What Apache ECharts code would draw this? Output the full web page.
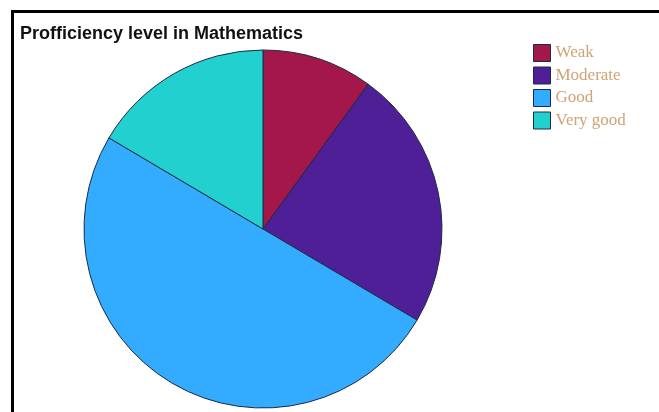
<!DOCTYPE html>
<html>
<head>
<meta charset="utf-8">
<script src="https://cdn.jsdelivr.net/npm/echarts@6/dist/echarts.min.js"></script>
<style>
html,body{margin:0;padding:0;background:#fff;}
#c{width:659px;height:412px;}
</style>
</head>
<body>
<div id="c"></div>
<script>
var categories = ["Weak", "Moderate", "Good", "Very good"];
var values = [10, 23.5, 50, 16.5];
var colors = ["#a3174b", "#4e1f96", "#33acff", "#22d0cf"];

var chart = echarts.init(document.getElementById('c'), null, {renderer: 'canvas'});
var data = categories.map(function (c, i) {
  return {name: c, value: values[i], itemStyle: {color: colors[i]}};
});
chart.setOption({
  animation: false,
  backgroundColor: '#ffffff',
  title: {
    text: 'Profficiency level in Mathematics',
    left: 15, top: 20,
    textStyle: {fontFamily: 'Liberation Sans, Arial, sans-serif', fontSize: 18, fontWeight: 'bold', color: '#111111'}
  },
  legend: {
    orient: 'vertical',
    left: 528, top: 39,
    itemWidth: 17, itemHeight: 17, itemGap: 4.5,
    icon: 'rect',
    itemStyle: {borderColor: '#1e2a44', borderWidth: 1},
    textStyle: {fontFamily: 'Liberation Serif, Times New Roman, serif', fontSize: 17, color: '#d0a274'},
    data: categories
  },
  graphic: [
    {type: 'rect', shape: {x: 11, y: 10, width: 648, height: 3}, style: {fill: '#000'}},
    {type: 'rect', shape: {x: 11, y: 10, width: 3, height: 402}, style: {fill: '#000'}}
  ],
  series: [{
    type: 'pie',
    center: [263, 229],
    radius: 179,
    startAngle: 90,
    clockwise: true,
    label: {show: false},
    labelLine: {show: false},
    emphasis: {disabled: true},
    itemStyle: {borderColor: '#1e2a44', borderWidth: 1},
    data: data
  }]
});
</script>
</body>
</html>
